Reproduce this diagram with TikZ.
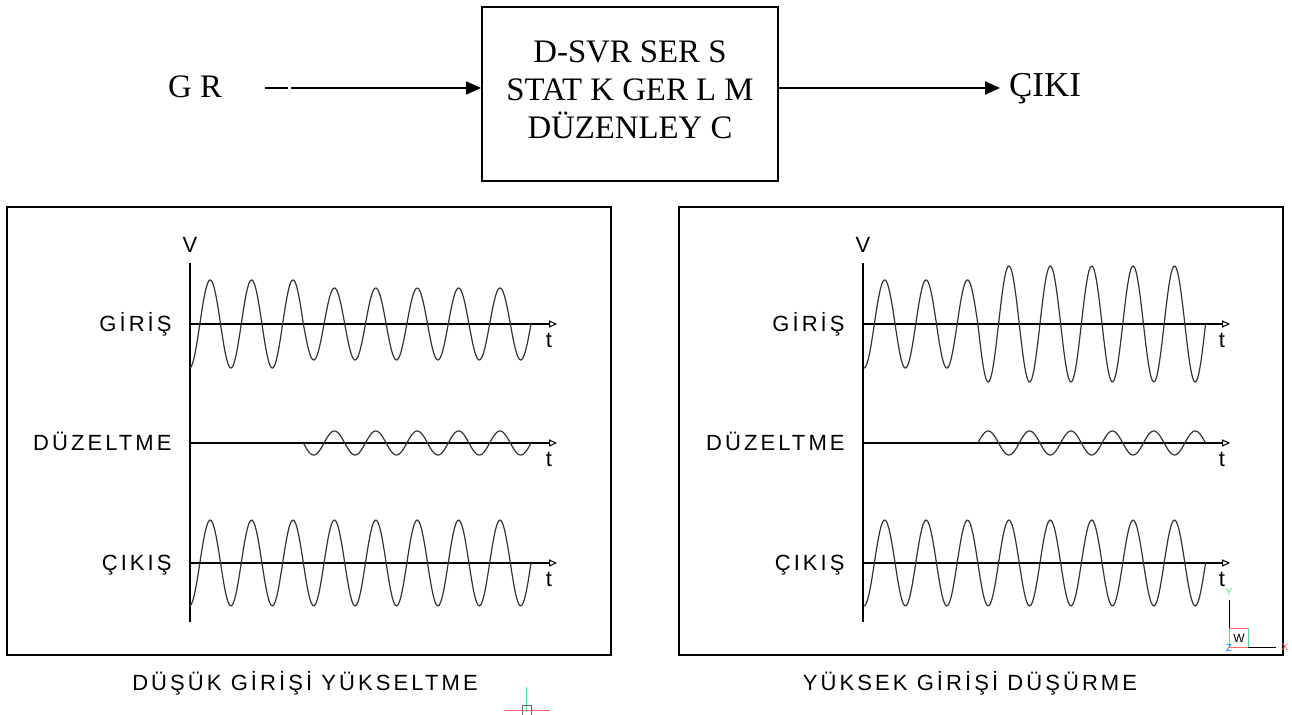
\documentclass[tikz,border=0pt]{standalone}
\usepackage{fontspec}
\setmainfont{Liberation Serif}
\setsansfont{Liberation Sans}
\newfontfamily\lblfont{Liberation Sans}[LetterSpace=14]
\usetikzlibrary{positioning,arrows.meta}
\definecolor{ucsgreen}{RGB}{70,225,140}
\definecolor{ucsred}{RGB}{255,105,105}
\definecolor{ucsblue}{RGB}{30,120,255}
\tikzset{
  blockbox/.style={draw, line width=1pt, minimum width=148pt, minimum height=87pt, inner sep=0pt},
  toptext/.style={font=\fontsize{16.4}{19}\selectfont, align=center, inner sep=0pt},
  sigarrow/.style={-{Triangle[length=7.5pt,width=6.5pt]}, line width=1pt},
  panelbox/.style={draw, line width=0.55pt, minimum width=302pt, minimum height=224pt, inner sep=0pt},
  axisline/.style={line width=1pt},
  axisarr/.style={-{Triangle[open,length=4pt,width=3.6pt,line width=0.5pt]}, line width=1pt},
  siglbl/.style={font=\lblfont\fontsize{11}{12}\selectfont, inner sep=0pt},
  sig/.style={draw=black!80, line width=0.6pt},
}
\newcommand{\Per}{41.4}
% left / right panel origins of the waves
\newcommand{\LO}{189.5}
\newcommand{\RO}{864}
% #1 from, #2 to, #3 axis y, #4 amplitude, #5 phase origin
\newcommand{\wave}[5]{\draw[sig] plot[domain=#1:#2, samples=220] (\x,{#3+#4*cos(360/\Per*(\x-#5))});}

\begin{document}
\begin{tikzpicture}[x=0.5pt,y=-0.5pt]
  \useasboundingbox (0,0) rectangle (1292,715);

  % top block
  \node[blockbox] (ctrl) at (630,94) {};
  \node[toptext] (ctrltxt) at (630,89.5) {D-SVR SER S\\STAT K GER L M\\DÜZENLEY C};
  \node[toptext, anchor=base] (gr) at (195,98) {G R};
  \node[toptext, anchor=base, font=\fontsize{17.5}{19}\selectfont] (cik) at (1045,97) {ÇIKI};
  \coordinate (in) at (265,88);
  \coordinate (out) at (1000,88);
  \draw[sigarrow, dash pattern=on 11.5pt off 1.5pt on 200pt] (in) -- (in -| ctrl.west);
  \draw[sigarrow] (out -| ctrl.east) -- (out);

  % panels
  \node[panelbox] (pL) at (309,431) {};
  \node[panelbox] (pR) at (981,431) {};

  \foreach \p/\ax/\te/\le in {L/190/557/172, R/863/1230/845} {
    \coordinate (\p-vtop) at (\ax,263);
    \coordinate (\p-vbot) at (\ax,622);
    \draw[axisline] (\p-vtop) -- (\p-vbot);
    \node[siglbl] (\p-v) at (\ax,245) {V};
    \foreach \ya/\nm/\txt in {324/gir/GİRİŞ, 443/duz/DÜZELTME, 563/cik/ÇIKIŞ} {
      \coordinate (\p-\nm-a) at (\ax,\ya);
      \coordinate (\p-\nm-b) at (\te,\ya);
      \draw[axisarr] (\p-\nm-a) -- (\p-\nm-b);
      \node[siglbl, anchor=base] (\p-\nm-t) at (\te-8,\ya+24) {t};
      \node[siglbl, anchor=base east] (\p-\nm-l) at (\le,\ya+7.5) {\txt};
    }
  }

  % left: low input raised
  \wave{\LO}{\LO+2.75*\Per}{324}{44}{\LO}
  \wave{\LO+2.75*\Per}{\LO+8.25*\Per}{324}{36}{\LO}
  \wave{\LO+2.75*\Per}{\LO+8.25*\Per}{443}{12}{\LO}
  \wave{\LO}{\LO+8.25*\Per}{563}{43}{\LO}

  % right: high input lowered
  \wave{\RO}{\RO+2.75*\Per}{324}{44}{\RO}
  \wave{\RO+2.75*\Per}{\RO+8.25*\Per}{324}{58}{\RO}
  \wave{\RO+2.75*\Per}{\RO+8.25*\Per}{443}{-12}{\RO}
  \wave{\RO}{\RO+8.25*\Per}{563}{43}{\RO}

  \node[siglbl] (capL) at (305,683) {DÜŞÜK GİRİŞİ YÜKSELTME};
  \node[siglbl] (capR) at (970,683) {YÜKSEK GİRİŞİ DÜŞÜRME};

  % ucs icon
  \node[font=\sffamily\fontsize{5}{5}\selectfont, text=ucsgreen, inner sep=0pt] (ucsY) at (1229,592) {Y};
  \draw[line width=0.5pt] (1229,600) -- (1229,647);
  \draw[ucsgreen, line width=0.5pt] (1229,628.5) -- (1229,647.5) (1248,628.5) -- (1248,647.5);
  \draw[ucsred, line width=0.5pt] (1229,628.5) -- (1248,628.5) (1229,647.5) -- (1248,647.5);
  \node[font=\sffamily\fontsize{6}{6}\selectfont, inner sep=0pt] (ucsW) at (1239,638) {W};
  \draw[line width=0.5pt] (1248,647.5) -- (1276,647.5);
  \node[font=\sffamily\fontsize{5}{5}\selectfont, text=ucsred, inner sep=0pt] (ucsX) at (1285,647.5) {X};
  \node[font=\sffamily\fontsize{5}{5}\selectfont, text=ucsblue, inner sep=0pt] (ucsZ) at (1229,648) {Z};

  % cursor
  \draw[ucsgreen, line width=0.6pt] (526.7,687) -- (526.7,712);
  \draw[ucsred, line width=0.5pt] (504,710.5) -- (550,710.5);
  \draw[black!60, line width=0.5pt] (522.5,715) -- (522.5,706) -- (531,706) -- (531,715);
\end{tikzpicture}
\end{document}
